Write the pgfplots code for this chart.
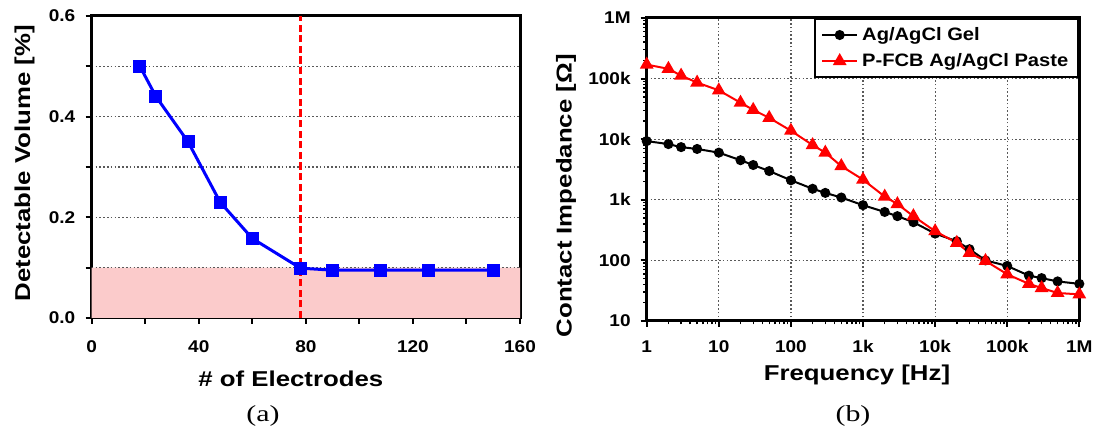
\documentclass[border=0pt]{standalone}
\usepackage{fontspec}
\setmainfont{Liberation Sans}[FakeStretch=1.12]
\newfontfamily\labfont{Liberation Sans}[FakeStretch=1.2]
\newfontfamily\capfont{Liberation Serif}[FakeStretch=1.3]
\usepackage{pgfplots}
\pgfplotsset{compat=1.18}
\definecolor{shade}{RGB}{251,203,203}
\definecolor{myblue}{RGB}{0,0,255}
\definecolor{myred}{RGB}{255,0,0}
\tikzset{gridstyle/.style={line width=0.6pt, color=black!65, dash pattern=on 0.8pt off 1.1pt}}
\pgfplotsset{
  common/.style={
    scale only axis,
    tick align=outside, tick pos=left,
    major tick style={black, line width=1pt},
    minor tick style={black, line width=1pt},
    axis line style={line width=1.5pt},
    ticklabel style={font=\fontsize{8.5}{10}\selectfont\bfseries},
    label style={font=\labfont\fontsize{10.75}{13}\selectfont\bfseries},
  }
}
\begin{document}
\begin{tikzpicture}
\path[use as bounding box] (0,0) rectangle (548pt,216pt);
% ---------------- (a) ----------------
\begin{axis}[common,
  at={(45.85pt,57pt)}, anchor=south west,
  width=214.15pt, height=151pt,
  xmin=0, xmax=160, ymin=0, ymax=0.6,
  xtick={0,40,80,120,160}, xticklabels={0,40,80,120,160},
  minor xtick={20,60,100,140},
  ytick={0,0.2,0.4,0.6}, yticklabels={0.0,0.2,0.4,0.6},
  minor ytick={0.1,0.3,0.5},
  ymajorgrids, yminorgrids,
  major grid style={gridstyle}, minor grid style={gridstyle},
  major tick length=3pt, minor tick length=3pt,
  xticklabel style={anchor=base, yshift=-14.5pt},
  yticklabel style={anchor=east, inner sep=0pt, xshift=-5pt},
  xlabel={\# of Electrodes},
  ylabel={Detectable Volume [\%]},
  xlabel style={at={(axis description cs:0.465,-0.228)}, anchor=base},
  ylabel style={at={(axis description cs:-0.157,0.512)}, anchor=center},
]
\addplot[draw=none, fill=shade] coordinates {(0,0) (160,0) (160,0.1) (0,0.1)} \closedcycle;
\addplot[gridstyle] coordinates {(0,0.1) (160,0.1)};
\addplot[myred, line width=1.8pt, dash pattern=on 3.6pt off 1.7pt] coordinates {(78,0) (78,0.6)};
\addplot[myblue, line width=1.5pt, mark=square*, mark size=2.5pt, mark options={solid}]
  coordinates {(18,0.5) (24,0.44) (36,0.35) (48,0.23) (60,0.158) (78,0.099) (90,0.095) (108,0.095) (126,0.095) (150,0.095)};
\end{axis}
% ---------------- (b) ----------------
\begin{axis}[common,
  at={(323.35pt,55.5pt)}, anchor=south west,
  width=216.3pt, height=151.5pt,
  xmode=log, ymode=log,
  xmin=1, xmax=1e6, ymin=10, ymax=1e6,
  xtick={1,10,100,1000,10000,100000,1000000},
  xticklabels={1,10,100,1k,10k,100k,1M},
  ytick={10,100,1000,10000,100000,1000000},
  yticklabels={10,100,1k,10k,100k,1M},
  xmajorgrids, ymajorgrids, major grid style={gridstyle},
  major tick length=3pt, minor tick length=1.75pt,
  minor tick style={black, line width=0.7pt},
  xticklabel style={anchor=base, yshift=-13pt},
  yticklabel style={anchor=east, inner sep=0pt, xshift=-4.85pt},
  xlabel={Frequency [Hz]},
  ylabel={Contact Impedance [Ω]},
  xlabel style={at={(axis description cs:0.486,-0.195)}, anchor=base},
  ylabel style={at={(axis description cs:-0.1866,0.413)}, anchor=center},
  legend style={at={(1,1)}, anchor=north east, draw=black, line width=1pt,
    font=\fontsize{9}{10}\selectfont\bfseries, inner xsep=3pt, inner ysep=2pt,
    row sep=1pt, cells={anchor=west}},
  legend image code/.code={\draw[mark repeat=2,mark phase=2,#1] plot coordinates {(0pt,0pt) (8.75pt,0pt) (17.5pt,0pt)};},
]
\addplot[black, line width=1pt, mark=*, mark size=2pt] coordinates {
(1,9300) (2,8300) (3,7400) (5,6900) (10,6000) (20,4500) (30,3750) (50,2980)
(100,2100) (200,1520) (300,1300) (500,1090) (1000,815) (2000,630) (3000,537)
(5000,427) (10000,277) (20000,207) (30000,153) (50000,100) (100000,81)
(200000,56) (300000,51) (500000,45) (1000000,41)};
\addlegendentry{Ag/AgCl Gel}
\addplot[myred, line width=1pt, mark=triangle*, mark size=3pt] coordinates {
(1,170000) (2,145000) (3,112000) (5,86000) (10,64000) (20,40000) (30,30500)
(50,22500) (100,13800) (200,8000) (300,6000) (500,3600) (1000,2150) (2000,1130)
(3000,850) (5000,537) (10000,303) (20000,195) (30000,133) (50000,98)
(100000,59) (200000,41) (300000,35) (500000,29) (1000000,27.5)};
\addlegendentry{P-FCB Ag/AgCl Paste}
\end{axis}
\node[font=\capfont\fontsize{11.5}{13}\selectfont] at (131.5pt,8pt) {(a)};
\node[font=\capfont\fontsize{11.5}{13}\selectfont] at (426.5pt,8pt) {(b)};
\end{tikzpicture}
\end{document}
